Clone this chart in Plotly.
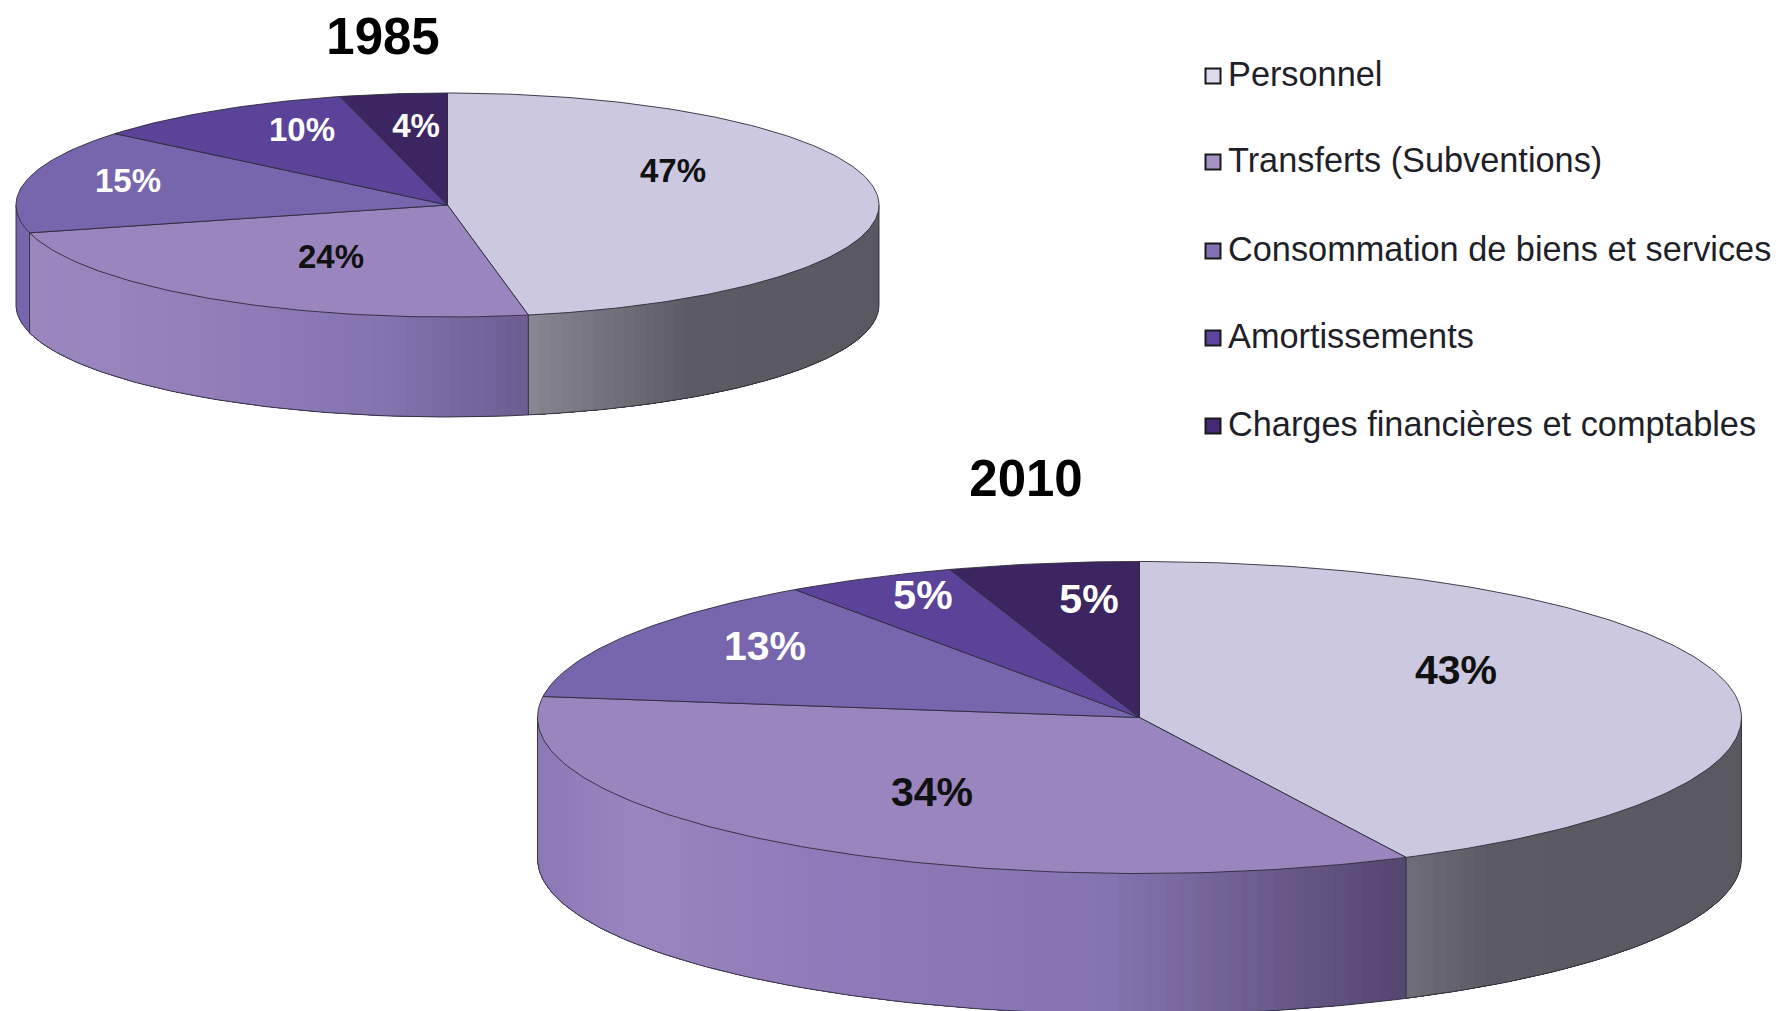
import numpy as np
import plotly.graph_objects as go

# ---------- data ----------
categories = ["Personnel", "Transferts (Subventions)", "Consommation de biens et services",
              "Amortissements", "Charges financières et comptables"]
values_1985 = [47.0, 24.0, 15.0, 10.0, 4.0]
labels_1985 = ["47%", "24%", "15%", "10%", "4%"]
values_2010 = [42.7, 34.45, 13.15, 4.6, 5.1]
labels_2010 = ["43%", "34%", "13%", "5%", "5%"]

# ---------- styles / layout ----------
W, H = 1776, 1011
TOP_COLORS = ["#CCC8DF", "#9A85BE", "#7766AD", "#5B4399", "#3C2560"]
LEGEND_COLORS = ["#DED9EC", "#A593C8", "#8270B4", "#5E469E", "#452A75"]
LABEL_COLORS = ["#111111", "#111111", "#FFFFFF", "#FFFFFF", "#FFFFFF"]
FONT = "Liberation Sans"
EDGE = "#2E2A3A"

PIE_1985 = dict(cx=447.5, cy=205, rx=431.5, ry=112, depth=100, label_size=33,
                label_pos=[(673, 174), (331, 260), (128, 184), (302, 133), (416, 129)],
                side={0: [(0.59, "#8A8892"), (0.78, "#5C5A63"), (1.0, "#5A5860")],
                      1: [(0.0, "#9C88BF"), (0.20, "#957FBA"), (0.42, "#8474B0"), (0.593, "#6C5D92")],
                      2: [(0.0, "#7766AD"), (1.0, "#7766AD")]})
PIE_2010 = dict(cx=1139.5, cy=717.5, rx=602, ry=156, depth=141, label_size=41,
                label_pos=[(1456, 674), (932, 796), (765, 650), (923, 599), (1089, 603)],
                side={0: [(0.72, "#706E78"), (0.79, "#5C5A63"), (1.0, "#5A5860")],
                      1: [(0.0, "#8C78B6"), (0.08, "#9A85BE"), (0.25, "#9079B8"),
                          (0.47, "#8575B0"), (0.72, "#54466F")]})
TITLES = [("1985", 383, 41), ("2010", 1026, 483)]
LEGEND_Y = [76, 162, 251, 338, 426]
LEGEND_MARK_X, LEGEND_TEXT_X = 1213, 1228
LEGEND_TEXT_DY = 1


def hex2rgb(c):
    return np.array([int(c[i:i + 2], 16) for i in (1, 3, 5)], dtype=float)


def grad(stops, u):
    us = [s[0] for s in stops]
    rgb = [np.interp(u, us, [hex2rgb(s[1])[k] for s in stops]) for k in range(3)]
    return "rgb(%d,%d,%d)" % tuple(int(round(v)) for v in rgb)


fig = go.Figure()


def poly(xs, ys, fill, line_color=None, width=1.0):
    fig.add_trace(go.Scatter(x=xs, y=ys, mode="lines", fill="toself", fillcolor=fill,
                             line=dict(color=line_color or fill, width=width),
                             hoverinfo="skip", showlegend=False))


def line(xs, ys, width=0.9, color=EDGE):
    fig.add_trace(go.Scatter(x=xs, y=ys, mode="lines", line=dict(color=color, width=width),
                             hoverinfo="skip", showlegend=False))


def draw_pie(values, labels, p):
    cx, cy, rx, ry, d = p["cx"], p["cy"], p["rx"], p["ry"], p["depth"]
    px = lambda t: cx + rx * np.sin(np.radians(t))
    py = lambda t: cy - ry * np.cos(np.radians(t))
    cum = np.concatenate([[0], np.cumsum(values)]) / sum(values) * 360.0

    # rim, front half only: each strip runs on to the end of its slice and the next one
    # paints over it, so no seams show between the gradient steps
    for i in range(len(values)):
        a, b = max(cum[i], 90), min(cum[i + 1], 270)
        if b <= a or i not in p["side"]:
            continue
        n = max(1, int(np.ceil((b - a) / 1.5)))
        ts = np.linspace(a, b, n + 1)
        for t0, t1 in zip(ts[:-1], ts[1:]):
            sub = np.linspace(t0, b, max(3, int(b - t0) + 2))
            xs = np.concatenate([px(sub), px(sub[::-1])])
            ys = np.concatenate([py(sub) + d, py(sub[::-1])])
            u = (px((t0 + t1) / 2) - (cx - rx)) / (2 * rx)
            poly(list(xs) + [xs[0]], list(ys) + [ys[0]], grad(p["side"][i], u), width=0)

    # rim outline
    front = np.linspace(90, 270, 181)
    line(px(front), py(front) + d)
    line([cx + rx, cx + rx], [cy, cy + d])
    line([cx - rx, cx - rx], [cy, cy + d])
    for edge_angle in cum[1:-1]:
        if 90 < edge_angle < 270:
            line([px(edge_angle)] * 2, [py(edge_angle), py(edge_angle) + d])

    # top face
    for i in range(len(values)):
        ts = np.linspace(cum[i], cum[i + 1], max(4, int(cum[i + 1] - cum[i]) + 2))
        xs = [cx] + list(px(ts)) + [cx]
        ys = [cy] + list(py(ts)) + [cy]
        poly(xs, ys, TOP_COLORS[i], line_color=EDGE, width=0.9)

    # percentage labels
    for i, lab in enumerate(labels):
        x, y = p["label_pos"][i]
        fig.add_trace(go.Scatter(x=[x], y=[y], mode="text", text=[lab], textposition="middle center",
                                 textfont=dict(family=FONT, size=p["label_size"], color=LABEL_COLORS[i],
                                               weight="bold"),
                                 hoverinfo="skip", showlegend=False))


draw_pie(values_1985, labels_1985, PIE_1985)
draw_pie(values_2010, labels_2010, PIE_2010)

# titles
for txt, x, y in TITLES:
    fig.add_trace(go.Scatter(x=[x], y=[y], mode="text", text=[txt], textposition="middle center",
                             textfont=dict(family=FONT, size=51, color="#000000", weight="bold"),
                             hoverinfo="skip", showlegend=False))

# legend
for i, name in enumerate(categories):
    fig.add_trace(go.Scatter(x=[LEGEND_MARK_X], y=[LEGEND_Y[i]], mode="markers",
                             marker=dict(symbol="square", size=15, color=LEGEND_COLORS[i],
                                         line=dict(color="#1A1A1A", width=2)),
                             hoverinfo="skip", showlegend=False))
    fig.add_trace(go.Scatter(x=[LEGEND_TEXT_X], y=[LEGEND_Y[i] + LEGEND_TEXT_DY], mode="text", text=[name],
                             textposition="middle right",
                             textfont=dict(family=FONT, size=34.3, color="#1F1F2A"),
                             hoverinfo="skip", showlegend=False))

fig.update_layout(width=W, height=H, margin=dict(l=0, r=0, t=0, b=0),
                  paper_bgcolor="white", plot_bgcolor="white", showlegend=False,
                  xaxis=dict(range=[0, W], visible=False, fixedrange=True),
                  yaxis=dict(range=[H, 0], visible=False, fixedrange=True))
fig.write_html("out.html", config={"displayModeBar": False},
               post_script="document.body.style.margin='0';document.body.style.overflow='hidden';")
